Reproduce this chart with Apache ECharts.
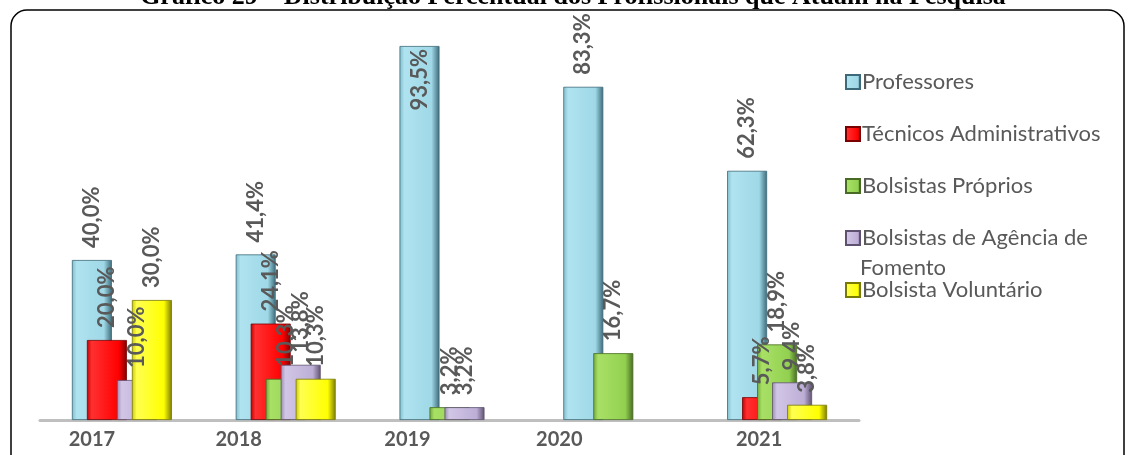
<!DOCTYPE html>
<html><head><meta charset="utf-8">
<script src="https://cdn.jsdelivr.net/npm/echarts@6/dist/echarts.min.js"></script>
<style>html,body{margin:0;padding:0;background:#fff}#c{width:1132px;height:455px}</style>
</head><body><div id="c"></div>
<script>
var categories = ['2017', '2018', '2019', '2020', '2021'];
var seriesNames = ['Professores', 'Técnicos Administrativos', 'Bolsistas Próprios', 'Bolsistas de Agência de Fomento', 'Bolsista Voluntário'];
var professores = [40.0, 41.4, 93.5, 83.3, 62.3];
var tecnicos = [20.0, 24.1, 0, 0, 5.7];
var bolsistasProprios = [0, 10.3, 3.2, 16.7, 18.9];
var bolsistasAgencia = [10.0, 13.8, 3.2, 0, 9.4];
var voluntario = [30.0, 10.3, 0, 0, 3.8];
var yTicks = [0, 100];

var values = [professores, tecnicos, bolsistasProprios, bolsistasAgencia, voluntario];
var palette = [
  ['#80bccb', '#b0e3f0', '#9fd8e7', '#3c6a78'],
  ['#c00000', '#ff3030', '#ff0000', '#7a0000'],
  ['#6fa63a', '#a8e066', '#92d050', '#476b22'],
  ['#9a8ab0', '#d2c6e6', '#bcaed6', '#5e516f'],
  ['#c8c800', '#ffff50', '#ffff00', '#7a7a00']
];
var labelShift = [60, 94, 84, 108, 36];
var FONT = 'Lato, "Open Sans", sans-serif';

var chart = echarts.init(document.getElementById('c'));
var series = values.map(function (arr, i) {
  var p = palette[i];
  return {
    name: seriesNames[i],
    type: 'bar',
    barWidth: 40,
    barGap: '-62.5%',
    barCategoryGap: 0,
    data: arr.map(function (v) {
      if (!v) return '-';
      var item = { value: v };
      if (v > 90) item.label = { position: 'insideTop', align: 'right', distance: 3 };
      return item;
    }),
    itemStyle: {
      color: new echarts.graphic.LinearGradient(0, 0, 1, 0, [
        { offset: 0, color: p[0] }, { offset: 0.12, color: p[1] },
        { offset: 0.8, color: p[2] }, { offset: 1, color: p[3] }
      ]),
      borderColor: p[3], borderWidth: 0.8
    },
    label: {
      show: true, position: 'top', rotate: 90, align: 'left', verticalAlign: 'middle',
      distance: 12, color: '#595959', fontWeight: 'bold', fontSize: 22, fontFamily: FONT,
      formatter: function (d) { return d.value ? d.value.toFixed(1).replace('.', ',') + '%' : ''; }
    }
  };
});

var rich = {};
categories.forEach(function (c, i) {
  rich['c' + i] = { padding: [0, labelShift[i], 0, 0], color: '#595959', fontWeight: 'bold', fontSize: 20, fontFamily: FONT };
});

chart.setOption({
  animation: false,
  title: {
    text: 'Gráfico 29 – Distribuição Percentual dos Profissionais que Atuam na Pesquisa',
    left: 568, textAlign: 'center', top: -21,
    textStyle: { fontFamily: '"Liberation Serif", serif', fontWeight: 'bold', fontSize: 26, color: '#000' }
  },
  graphic: [{
    type: 'rect', shape: { x: 11, y: 10, width: 1113, height: 470, r: 16 },
    style: { fill: 'none', stroke: '#000', lineWidth: 1.5 }, z: -1
  }, {
    type: 'text', left: 860, top: 257,
    style: { text: 'Fomento', fill: '#595959', font: '22px ' + FONT }
  }],
  legend: {
    orient: 'vertical', left: 840, top: 66, itemGap: 30, icon: 'rect', itemWidth: 14, itemHeight: 14,
    data: seriesNames,
    formatter: function (n) { return n === 'Bolsistas de Agência de Fomento' ? 'Bolsistas de Agência de' : n; },
    textStyle: { color: '#595959', fontSize: 22, fontFamily: FONT, padding: [0, 0, 0, -3] }
  },
  grid: { left: 40, right: 273, top: 20, bottom: 35, containLabel: false },
  xAxis: {
    type: 'category', data: categories,
    axisLine: { lineStyle: { color: '#BFBFBF', width: 3 } },
    axisTick: { show: false },
    axisLabel: { margin: 10, interval: 0, rich: rich, formatter: function (v, i) { return '{c' + i + '|' + v + '}'; } }
  },
  yAxis: {
    type: 'value', min: yTicks[0], max: yTicks[1], show: false, splitLine: { show: false }
  },
  series: series
});
</script></body></html>
